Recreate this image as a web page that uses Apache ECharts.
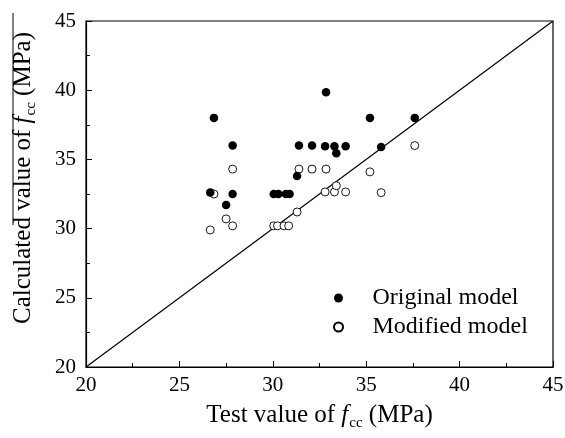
<!DOCTYPE html>
<html>
<head>
<meta charset="utf-8">
<script src="https://cdn.jsdelivr.net/npm/echarts@6/dist/echarts.min.js"></script>
<style>html,body{margin:0;padding:0;background:#fff;}#c{width:565px;height:438px;}</style>
</head>
<body>
<div id="c"></div>
<script>
// Original model: [test, calculated]
const originalTest = [26.65, 26.85, 27.5, 27.85, 27.85, 30.05, 30.3, 30.7, 30.9, 31.3, 31.4, 32.1, 32.85, 32.8, 33.3, 33.4, 33.9, 35.2, 35.8, 37.6];
const originalCalc = [32.6, 38.0, 31.7, 36.0, 32.5, 32.5, 32.5, 32.5, 32.5, 33.8, 36.0, 36.0, 39.85, 35.95, 35.95, 35.45, 35.95, 38.0, 35.9, 38.0];
// Modified model
const modifiedTest = [26.65, 26.85, 27.5, 27.85, 27.85, 30.05, 30.25, 30.6, 30.85, 31.3, 31.4, 32.1, 32.85, 32.8, 33.3, 33.4, 33.9, 35.2, 35.8, 37.6];
const modifiedCalc = [29.9, 32.5, 30.7, 34.3, 30.2, 30.2, 30.2, 30.2, 30.2, 31.2, 34.3, 34.3, 34.3, 32.65, 32.65, 33.1, 32.65, 34.1, 32.6, 36.0];
const lineX = [20, 45];
const lineY = [20, 45];
const seriesNames = ['Original model', 'Modified model'];

const zip = (a, b) => a.map((v, i) => [v, b[i]]);
const FONT = '"Liberation Serif", "Times New Roman", serif';
const titleRich = {
  a: {fontFamily: FONT, fontSize: 25, color: '#000'},
  i: {fontFamily: FONT, fontSize: 25, fontStyle: 'italic', color: '#000'},
  s: {fontFamily: FONT, fontSize: 15, color: '#000', padding: [17, 0, 0, 1]}
};

const chart = echarts.init(document.getElementById('c'));
chart.setOption({
  animation: false,
  backgroundColor: '#fff',
  grid: {left: 86, top: 21, right: 12, bottom: 71, show: true, borderColor: '#000', borderWidth: 1.2,
         backgroundColor: 'transparent', containLabel: false, outerBoundsMode: 'none'},
  xAxis: {
    type: 'value', min: 20, max: 45, interval: 5,
    name: '{a|Test value of }{i|f}{s|cc}{a| (MPa)}',
    nameLocation: 'middle', nameGap: 32,
    nameTextStyle: {rich: titleRich},
    axisLine: {lineStyle: {color: '#000', width: 1.2}},
    axisTick: {inside: true, length: 6, lineStyle: {color: '#000', width: 1}},
    minorTick: {show: true, splitNumber: 2, length: 4, lineStyle: {color: '#000', width: 1}},
    splitLine: {show: false},
    axisLabel: {fontFamily: FONT, fontSize: 21, color: '#000', margin: 8}
  },
  yAxis: {
    type: 'value', min: 20, max: 45, interval: 5,
    name: '{a|Calculated value of }{i|f}{s|cc}{a| (MPa)}',
    nameLocation: 'middle', nameGap: 47, nameRotate: 90,
    nameTextStyle: {rich: titleRich, padding: [0, 0, 0, 32]},
    axisLine: {lineStyle: {color: '#000', width: 1.2}},
    axisTick: {inside: true, length: 6, lineStyle: {color: '#000', width: 1}},
    minorTick: {show: true, splitNumber: 2, length: 4, lineStyle: {color: '#000', width: 1}},
    splitLine: {show: false},
    axisLabel: {fontFamily: FONT, fontSize: 21, color: '#000', margin: 10}
  },
  legend: {
    data: seriesNames,
    orient: 'vertical', left: 328, top: 281,
    itemWidth: 58, itemHeight: 9, itemGap: 5,
    textStyle: {fontFamily: FONT, fontSize: 24, color: '#000'}
  },
  graphic: [{
    type: 'line', shape: {x1: 13, y1: 13, x2: 13, y2: 225},
    style: {stroke: '#000', lineWidth: 1}
  }],
  series: [
    {
      type: 'line', data: zip(lineX, lineY), showSymbol: false, symbol: 'none',
      lineStyle: {color: '#000', width: 1.2}, silent: true, z: 1
    },
    {
      name: seriesNames[0], type: 'scatter', data: zip(originalTest, originalCalc),
      symbol: 'circle', symbolSize: 8.5,
      itemStyle: {color: '#000', opacity: 1}, z: 3
    },
    {
      name: seriesNames[1], type: 'scatter', data: zip(modifiedTest, modifiedCalc),
      symbol: 'circle', symbolSize: 8,
      itemStyle: {color: '#fff', borderColor: '#000', borderWidth: 0.9, opacity: 1}, z: 2
    }
  ]
});
</script>
</body>
</html>
